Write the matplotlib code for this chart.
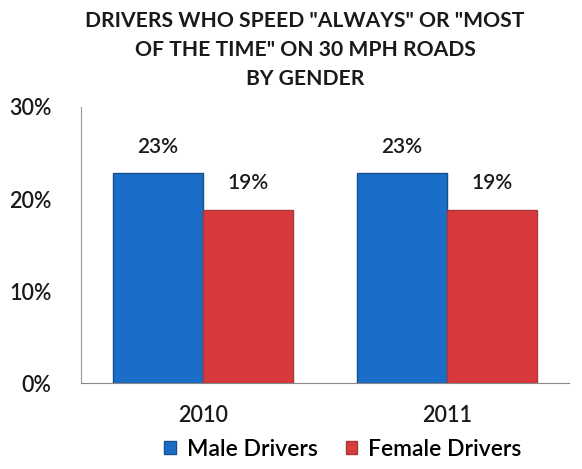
import matplotlib
matplotlib.use("Agg")
import matplotlib.pyplot as plt
import numpy as np

years = ["2010", "2011"]
male = [0.228, 0.228]
female = [0.188, 0.188]
series_names = ["Male Drivers", "Female Drivers"]
yticks = [0, 0.10, 0.20, 0.30]
title = 'DRIVERS WHO SPEED "ALWAYS" OR "MOST\nOF THE TIME" ON 30 MPH ROADS\nBY GENDER'

plt.rcParams['font.family'] = ['Lato', 'DejaVu Sans']

fig = plt.figure(figsize=(5.82, 4.69), dpi=100)
ax = fig.add_axes([0.139, 0.183, 0.839, 0.589])

x = np.arange(len(years))
w = 0.37
blue = "#1b6ec8"
red = "#d8393d"
b1 = ax.bar(x - w/2, male, w, color=blue, edgecolor="#16508f", linewidth=1.0, label=series_names[0])
b2 = ax.bar(x + w/2, female, w, color=red, edgecolor="#a8393b", linewidth=1.0, label=series_names[1])

for bars, vals in ((b1, male), (b2, female)):
    for rect, v in zip(bars, vals):
        ax.annotate(f"{v:.0%}", (rect.get_x() + rect.get_width()/2, v),
                    xytext=(0, 12), textcoords="offset points",
                    ha="center", va="bottom", fontsize=15, fontweight="semibold",
                    color="#1a1a1a")

ax.set_xlim(-0.5, 1.5)
ax.set_ylim(0, 0.30)
ax.set_yticks(yticks)
ax.set_yticklabels([f"{t:.0%}" for t in yticks], fontsize=15.5, fontweight="semibold",
                   color="#1a1a1a")
ax.set_xticks(x)
ax.set_xticklabels(years, fontsize=15.5, fontweight="semibold", color="#1a1a1a")
ax.tick_params(axis="y", length=0, pad=21)
ax.tick_params(axis="x", length=0, pad=16)
for s in ("top", "right"):
    ax.spines[s].set_visible(False)
ax.spines["left"].set_color("#999999")
ax.spines["bottom"].set_color("#888888")

fig.text(305/582, 1 - 50/469, title, ha="center", va="center", fontsize=15.2,
         fontweight="bold", linespacing=1.55, color="#1a1a1a")

fig.legend(handles=[b1, b2], labels=series_names, loc="center",
           bbox_to_anchor=(343/582, 1 - 449/469), ncol=2, frameon=False,
           prop={"size": 16.5, "weight": "semibold"},
           handlelength=0.5, handleheight=0.5, handletextpad=0.5,
           columnspacing=1.2)

fig.savefig("out.png", dpi=100, facecolor="white")
